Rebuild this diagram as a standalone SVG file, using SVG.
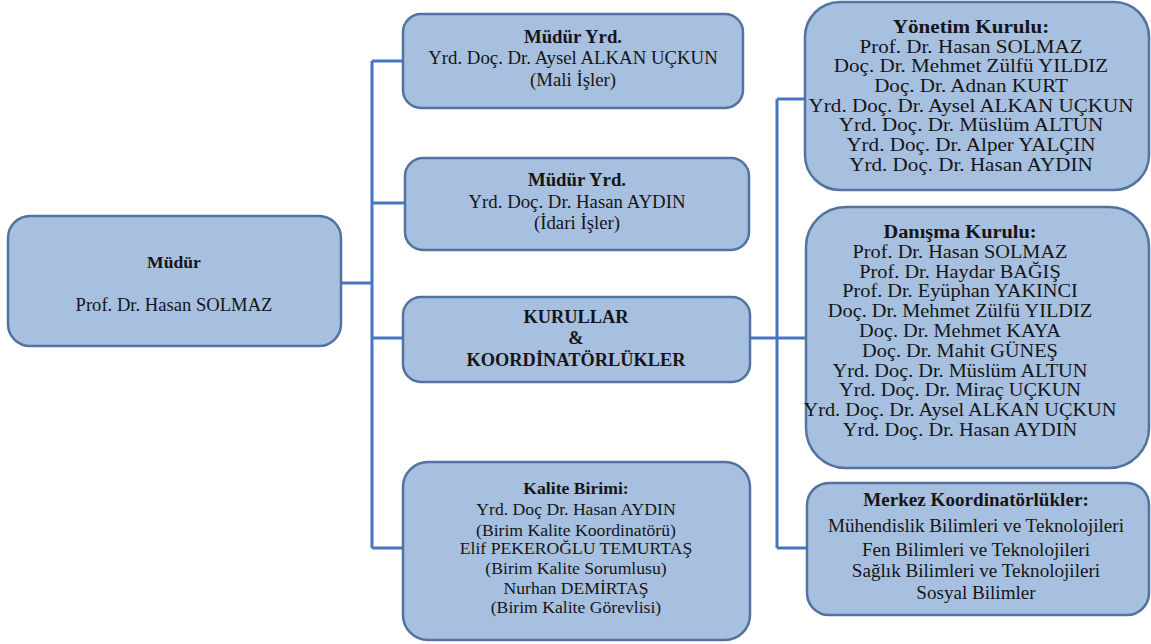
<svg xmlns="http://www.w3.org/2000/svg" width="1151" height="644" viewBox="0 0 1151 644" font-family="'Liberation Serif', 'DejaVu Serif', serif">
<style>
.box{fill:#a8c0e0;stroke:#52739f;stroke-width:2.5}
.con{fill:none;stroke:#4674c2;stroke-width:3}
text{font-family:'Liberation Serif','DejaVu Serif',serif;fill:#151515;text-anchor:middle}
.b{font-weight:bold}
</style>
<rect width="1151" height="644" fill="#ffffff"/>
<g id="connectors">
<path class="con" d="M341 283H372M372 61V548M372 61H403M372 203H405M372 338H403M372 548H403M750 338H806M777 99V548M777 99H805M777 548H807"/>
</g>
<g id="mudur">
<rect class="box" x="8" y="216" width="333" height="130" rx="22"/>
<g transform="translate(174 0) scale(1.035 1) translate(-174 0)">
<text class="b" x="174" y="268" font-size="17">Müdür</text>
<text x="174" y="311" font-size="18">Prof. Dr. Hasan SOLMAZ</text>
</g>
</g>
<g id="yrd1" font-size="18">
<rect class="box" x="403" y="14" width="340" height="94" rx="18"/>
<g transform="translate(573 0) scale(1.045 1) translate(-573 0)">
<text class="b" x="573" y="43">Müdür Yrd.</text>
<text x="573" y="64">Yrd. Doç. Dr. Aysel  ALKAN UÇKUN</text>
<text x="573" y="86">(Mali  İşler)</text>
</g>
</g>
<g id="yrd2" font-size="18">
<rect class="box" x="405" y="158" width="344" height="92" rx="18"/>
<g transform="translate(577 0) scale(1.045 1) translate(-577 0)">
<text class="b" x="577" y="186">Müdür Yrd.</text>
<text x="577" y="208">Yrd. Doç. Dr. Hasan AYDIN</text>
<text x="577" y="229">(İdari  İşler)</text>
</g>
</g>
<g id="kurullar" font-size="18">
<rect class="box" x="403" y="297" width="347" height="85" rx="18"/>
<g transform="translate(576 0) scale(1.02 1) translate(-576 0)">
<text class="b" x="576" y="323">KURULLAR</text>
<text class="b" x="576" y="344">&amp;</text>
<text class="b" x="576" y="366">KOORDİNATÖRLÜKLER</text>
</g>
</g>
<g id="kalite" font-size="17.3">
<rect class="box" x="403" y="462" width="347" height="178" rx="25"/>
<g transform="translate(576 0) scale(1.02 1) translate(-576 0)">
<text class="b" x="576" y="494">Kalite Birimi:</text>
<text x="576" y="515">Yrd. Doç Dr. Hasan AYDIN</text>
<text x="576" y="536">(Birim  Kalite Koordinatörü)</text>
<text x="576" y="554">Elif PEKEROĞLU TEMURTAŞ</text>
<text x="576" y="574">(Birim  Kalite Sorumlusu)</text>
<text x="576" y="594">Nurhan DEMİRTAŞ</text>
<text x="576" y="613">(Birim  Kalite Görevlisi)</text>
</g>
</g>
<g id="yonetim" font-size="19">
<rect class="box" x="805" y="2" width="344" height="188" rx="35"/>
<g transform="translate(971 0) scale(1.11 1) translate(-971 0)">
<text class="b" x="971" y="33">Yönetim  Kurulu:</text>
<text x="971" y="52.7">Prof. Dr. Hasan SOLMAZ</text>
<text x="971" y="72.4">Doç. Dr. Mehmet Zülfü YILDIZ</text>
<text x="971" y="92.1">Doç. Dr. Adnan KURT</text>
<text x="971" y="111.8">Yrd. Doç. Dr. Aysel ALKAN UÇKUN</text>
<text x="971" y="131.5">Yrd. Doç. Dr. Müslüm ALTUN</text>
<text x="971" y="151.2">Yrd. Doç. Dr. Alper YALÇIN</text>
<text x="971" y="171">Yrd. Doç. Dr. Hasan AYDIN</text>
</g>
</g>
<g id="danisma" font-size="19">
<rect class="box" x="806" y="207" width="343" height="261" rx="40"/>
<g transform="translate(960 0) scale(1.07 1) translate(-960 0)">
<text class="b" x="960" y="238">Danışma Kurulu:</text>
<text x="960" y="257.8">Prof. Dr. Hasan SOLMAZ</text>
<text x="960" y="277.6">Prof. Dr. Haydar BAĞIŞ</text>
<text x="960" y="297.4">Prof. Dr. Eyüphan YAKINCI</text>
<text x="960" y="317.2">Doç. Dr. Mehmet Zülfü  YILDIZ</text>
<text x="960" y="337">Doç. Dr. Mehmet KAYA</text>
<text x="960" y="356.8">Doç. Dr. Mahit GÜNEŞ</text>
<text x="960" y="376.6">Yrd. Doç. Dr. Müslüm  ALTUN</text>
<text x="960" y="396.4">Yrd. Doç. Dr. Miraç UÇKUN</text>
<text x="960" y="416.2">Yrd. Doç. Dr. Aysel ALKAN UÇKUN</text>
<text x="960" y="436">Yrd. Doç. Dr. Hasan AYDIN</text>
</g>
</g>
<g id="merkez" font-size="18.3">
<rect class="box" x="807" y="483" width="342" height="132" rx="22"/>
<g transform="translate(976 0) scale(1.045 1) translate(-976 0)">
<text class="b" x="976" y="506">Merkez Koordinatörlükler:</text>
<text x="976" y="532">Mühendislik  Bilimleri  ve Teknolojileri</text>
<text x="976" y="556">Fen Bilimleri  ve Teknolojileri</text>
<text x="976" y="577">Sağlık  Bilimleri  ve Teknolojileri</text>
<text x="976" y="599">Sosyal  Bilimler</text>
</g>
</g>
</svg>
